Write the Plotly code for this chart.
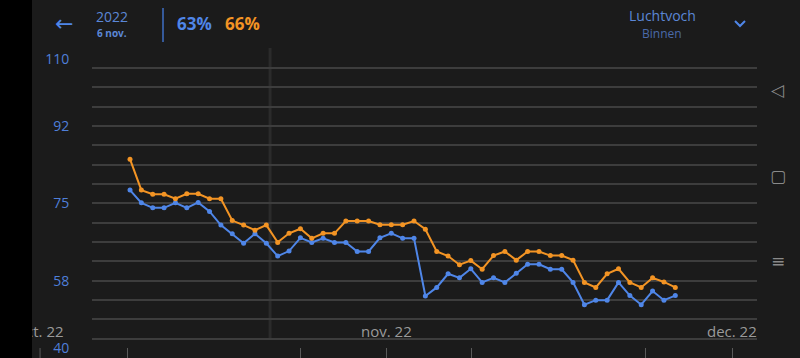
import pandas as pd
import plotly.graph_objects as go

# ---------------- data ----------------
start_date = "2022-10-09"
n_days = 49
dates = pd.date_range(start_date, periods=n_days, freq="D")

orange_values = [84.7, 77.9, 77.0, 77.0, 76.0, 77.1, 77.1, 76.0, 76.0, 71.2,
                 70.2, 69.1, 70.2, 66.4, 68.4, 69.4, 67.3, 68.4, 68.4, 71.1,
                 71.1, 71.1, 70.3, 70.3, 70.3, 71.1, 69.3, 64.4, 63.4, 61.5,
                 62.4, 60.5, 63.5, 64.4, 62.5, 64.4, 64.4, 63.5, 63.5, 62.5,
                 57.6, 56.5, 59.5, 60.6, 57.6, 56.5, 58.6, 57.7, 56.5]
blue_values = [77.9, 75.1, 74.0, 74.0, 75.1, 74.0, 75.2, 73.2, 70.2, 68.3,
               66.2, 68.3, 66.2, 63.4, 64.5, 67.4, 66.4, 67.3, 66.4, 66.4,
               64.4, 64.4, 67.4, 68.4, 67.3, 67.3, 54.6, 56.5, 59.5, 58.6,
               60.6, 57.6, 58.6, 57.6, 59.6, 61.6, 61.6, 60.5, 60.5, 57.6,
               52.7, 53.7, 53.7, 57.6, 54.7, 52.7, 55.7, 53.7, 54.7]

y_tick_text = ["110", "92", "75", "58", "40"]
y_tick_vals = [106.7, 92, 75, 58, 43.2]
month_labels = ["oct. 22", "nov. 22", "dec. 22"]
month_label_dates = ["2022-10-01 02:00", "2022-10-31 14:00", "2022-12-01 00:00"]
week_tick_dates = ["2022-10-01 02:00", "2022-10-08 19:00", "2022-10-24 01:00",
                   "2022-10-31 14:00", "2022-11-08 02:00", "2022-11-23 08:00",
                   "2022-12-01 00:00"]
cursor_date = "2022-10-21 08:00"

header_year = "2022"
header_date = "6 nov."
header_blue = "63%"
header_orange = "66%"
header_title = "Luchtvoch"
header_sub = "Binnen"

# ---------------- style ----------------
BG = "#1b1b1b"
BLUE = "#4f86e8"
ORANGE = "#f39424"
GRID = "#3d3d3d"
FONT = "Open Sans"

x_range = ["2022-10-05 15:43", "2022-12-03 04:36"]
y_range = [40.98, 108.71]

W, H = 800, 358
ML, MR, MT, MB = 92, 43, 50, 0
PW, PH = W - ML - MR, H - MT - MB


def px_x(px):
    return (px - ML) / PW


def px_y(py):
    return (H - MB - py) / PH


x0 = pd.Timestamp(x_range[0])
x1 = pd.Timestamp(x_range[1])


def date_to_paper(d):
    return (pd.Timestamp(d) - x0) / (x1 - x0)


fig = go.Figure()
fig.add_trace(go.Scatter(x=dates, y=blue_values, mode="lines+markers",
                         line=dict(color=BLUE, width=2),
                         marker=dict(color=BLUE, size=5), showlegend=False))
fig.add_trace(go.Scatter(x=dates, y=orange_values, mode="lines+markers",
                         line=dict(color=ORANGE, width=2),
                         marker=dict(color=ORANGE, size=5), showlegend=False))
fig.add_trace(go.Scatter(x=[], y=[], yaxis="y2", showlegend=False))

in_range_ticks = [d for d in week_tick_dates if 0 <= date_to_paper(d) <= 1]

fig.update_layout(
    width=W, height=H,
    margin=dict(l=ML, r=MR, t=MT, b=MB),
    paper_bgcolor=BG, plot_bgcolor=BG,
    font=dict(family=FONT),
    xaxis=dict(type="date", range=x_range, showgrid=False, zeroline=False,
               showline=False, showticklabels=False, ticks="inside",
               ticklen=10, tickwidth=1, tickcolor="#5a5a5a",
               tickvals=in_range_ticks),
    yaxis=dict(range=y_range, tick0=92, dtick=4.25, showgrid=True,
               gridcolor=GRID, gridwidth=1.5, zeroline=False,
               showticklabels=False, ticks=""),
    yaxis2=dict(range=y_range, overlaying="y", side="left", showgrid=False,
                zeroline=False, tickvals=y_tick_vals, ticktext=y_tick_text,
                ticks="outside", ticklen=19, tickcolor="rgba(0,0,0,0)",
                tickfont=dict(color="#4f7fd9", size=14, family=FONT)),
    hovermode=False,
)

shapes = []
# cursor line
shapes.append(dict(type="line", xref="x", yref="paper",
                   x0=cursor_date, x1=cursor_date, y0=px_y(338), y1=px_y(48),
                   line=dict(color="rgba(255,255,255,0.07)", width=3),
                   layer="below"))
# tick outside the range (left)
for d in week_tick_dates:
    p = date_to_paper(d)
    if p < 0:
        shapes.append(dict(type="line", xref="paper", yref="paper",
                           x0=p, x1=p, y0=0, y1=px_y(348),
                           line=dict(color="#5a5a5a", width=1)))
# header separator
shapes.append(dict(type="line", xref="paper", yref="paper",
                   x0=px_x(163), x1=px_x(163), y0=px_y(42), y1=px_y(8),
                   line=dict(color="#3f6fc4", width=1.5)))
# chevron
shapes.append(dict(type="path", xref="paper", yref="paper",
                   path=f"M {px_x(735)} {px_y(21)} L {px_x(740)} {px_y(26)} L {px_x(745)} {px_y(21)}",
                   line=dict(color=BLUE, width=2)))
fig.update_layout(shapes=shapes)


def label(text, px, py, color, size, family=FONT):
    return dict(text=text, xref="paper", yref="paper", x=px_x(px), y=px_y(py),
                xanchor="center", yanchor="middle", showarrow=False,
                font=dict(color=color, size=size, family=family))


ann = []
# month labels
for lbl, d in zip(month_labels, month_label_dates):
    ann.append(dict(text=lbl, xref="paper", yref="paper", x=date_to_paper(d),
                    y=px_y(331), xanchor="center", yanchor="middle",
                    showarrow=False, font=dict(color="#9a9a9a", size=15, family=FONT)))
# header
ann.append(label("←", 64, 23, BLUE, 22, "DejaVu Sans"))
ann.append(label(header_year, 112, 17, "#5b87d6", 14))
ann.append(label(f"<b>{header_date}</b>", 112, 33, "#5b87d6", 10))
ann.append(label(f"<b>{header_blue}</b>", 194, 24, BLUE, 17))
ann.append(label(f"<b>{header_orange}</b>", 242, 24, ORANGE, 17))
ann.append(label(header_title, 662, 16, "#5b87d6", 14))
ann.append(label(header_sub, 662, 34, "#4a6aa8", 12))
# navigation icons
for sym, py in [("◁", 90), ("▢", 176), ("≡", 261)]:
    ann.append(label(sym, 778, py, "#8a8a8a", 17, "DejaVu Sans"))
# black strip at the left edge
ann.append(dict(text=" ", xref="paper", yref="paper", x=px_x(0), y=px_y(0),
                xanchor="left", yanchor="top", width=32, height=H, borderpad=0,
                borderwidth=0, bgcolor="#000000", showarrow=False))
fig.update_layout(annotations=ann)

fig.write_html("out.html", config={"displayModeBar": False},
               post_script="document.body.style.margin='0';document.body.style.background='#1b1b1b';")
